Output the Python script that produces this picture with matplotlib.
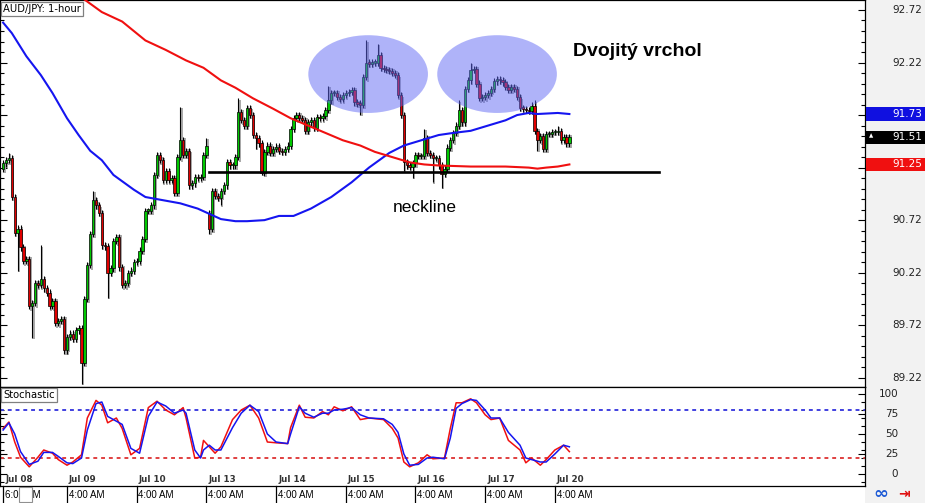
import matplotlib
matplotlib.use("Agg")
import matplotlib.pyplot as plt
import matplotlib.transforms as mtransforms
from matplotlib.patches import Rectangle, Ellipse
from matplotlib.ticker import FixedLocator, MultipleLocator
import numpy as np

# ---- data (AUD/JPY hourly) ----
first_open = 91.21
closes = [
    91.26, 91.29, 91.31, 90.94, 90.60, 90.64, 90.46, 90.33, 90.35, 89.90,
    89.93, 90.12, 90.10, 90.16, 90.07, 90.03, 89.90, 89.95, 89.74, 89.76,
    89.78, 89.48, 89.61, 89.64, 89.59, 89.67, 89.69, 89.36, 89.97, 90.29,
    90.59, 90.91, 90.86, 90.79, 90.48, 90.47, 90.22, 90.26, 90.52, 90.56,
    90.27, 90.10, 90.12, 90.22, 90.24, 90.32, 90.33, 90.43, 90.54, 90.81,
    90.81, 90.86, 91.15, 91.34, 91.29, 91.10, 91.19, 91.10, 91.12, 90.98,
    91.32, 91.48, 91.34, 91.38, 91.05, 91.07, 91.13, 91.12, 91.13, 91.34,
    91.43, 90.64, 91.00, 90.95, 90.93, 91.00, 91.05, 91.27, 91.24, 91.24,
    91.32, 91.75, 91.67, 91.62, 91.79, 91.72, 91.53, 91.50, 91.45, 91.17,
    91.37, 91.43, 91.36, 91.40, 91.42, 91.38, 91.37, 91.40, 91.43, 91.59,
    91.69, 91.72, 91.69, 91.67, 91.57, 91.65, 91.67, 91.60, 91.70, 91.69,
    91.71, 91.77, 91.86, 91.93, 91.93, 91.89, 91.87, 91.91, 91.93, 91.94,
    91.96, 91.84, 91.83, 91.82, 92.08, 92.22, 92.21, 92.22, 92.22, 92.29,
    92.17, 92.16, 92.15, 92.14, 92.12, 92.10, 91.91, 91.72, 91.27, 91.24,
    91.23, 91.26, 91.34, 91.33, 91.33, 91.50, 91.36, 91.34, 91.31, 91.31,
    91.24, 91.16, 91.21, 91.41, 91.48, 91.55, 91.62, 91.77, 91.65, 91.97,
    92.05, 92.15, 92.16, 92.02, 91.88, 91.89, 91.91, 91.93, 91.97, 92.04,
    92.06, 92.05, 92.03, 91.99, 91.96, 91.99, 91.97, 91.89, 91.79, 91.78,
    91.77, 91.76, 91.81, 91.57, 91.48, 91.52, 91.40, 91.54, 91.54, 91.56,
    91.56, 91.57, 91.48, 91.51, 91.45, 91.51,
]
gap_opens = {71: 90.79}  # weekend gap
wick_hi = {2: 91.36, 13: 90.48, 31: 91.00, 61: 91.80, 70: 91.50, 81: 91.88,
           112: 92.00, 125: 92.43, 129: 92.40, 145: 91.59, 157: 91.86,
           161: 92.22, 183: 91.86, 191: 91.62}
wick_lo = {5: 90.24, 10: 89.60, 27: 89.16, 36: 89.98, 71: 90.59, 75: 90.86,
           87: 91.40, 89: 91.15, 123: 91.72, 138: 91.19, 141: 91.12,
           148: 91.08, 151: 91.03, 184: 91.38, 186: 91.37}

blue_idx = [0, 3, 8, 13, 17, 22, 26, 30, 34, 38, 42, 45, 49, 53, 61, 67, 71, 75, 80, 84,
            90, 95, 100, 106, 113, 120, 126, 133, 138, 144, 150, 155, 161, 167, 173,
            177, 181, 184, 191, 195]
blue_ma = [92.60, 92.50, 92.28, 92.10, 91.93, 91.69, 91.53, 91.38, 91.29, 91.15,
           91.07, 91.01, 90.94, 90.92, 90.88, 90.83, 90.78, 90.73, 90.71, 90.71,
           90.72, 90.76, 90.76, 90.83, 90.94, 91.08, 91.22, 91.36, 91.43, 91.48,
           91.53, 91.55, 91.57, 91.62, 91.67, 91.72, 91.74, 91.73, 91.74, 91.73]
red_idx = [20, 28, 34, 41, 49, 56, 63, 69, 75, 80, 86, 93, 99, 105, 111, 117, 123, 128,
           134, 140, 145, 150, 161, 173, 181, 184, 187, 191, 195]
red_ma = [92.96, 92.82, 92.70, 92.61, 92.43, 92.34, 92.24, 92.17, 92.05, 91.98,
          91.88, 91.78, 91.69, 91.62, 91.55, 91.48, 91.43, 91.37, 91.32, 91.27,
          91.25, 91.24, 91.23, 91.23, 91.22, 91.21, 91.22, 91.23, 91.25]

stoch_idx = [0, 2, 4, 6, 9, 12, 14, 17, 19, 22, 24, 27, 29, 32, 34, 36, 39, 41, 44, 47,
             50, 53, 56, 59, 62, 63, 66, 68, 69, 71, 73, 75, 79, 82, 85, 88, 91, 94, 98, 99,
             102, 104, 107, 110, 112, 114, 117, 120, 123, 126, 131, 134, 136, 138, 140,
             143, 146, 148, 152, 154, 156, 158, 161, 163, 166, 168, 171, 174, 178, 180,
             182, 185, 187, 190, 193, 195]
stoch_k = [57, 65, 40, 21, 9, 21, 30, 26, 18, 11, 15, 24, 70, 92, 86, 64, 70, 57, 24, 32,
           83, 91, 80, 74, 83, 70, 20, 21, 42, 34, 26, 34, 68, 80, 86, 70, 40, 39, 38, 58,
           86, 71, 70, 78, 74, 84, 79, 84, 68, 70, 68, 57, 45, 15, 9, 14, 24, 19, 20, 57,
           89, 89, 94, 89, 74, 68, 70, 42, 30, 14, 20, 11, 18, 30, 36, 28]
stoch_d = [55, 64, 50, 28, 12, 16, 27, 27, 22, 14, 13, 20, 55, 88, 90, 72, 66, 62, 32, 26,
           72, 90, 85, 76, 80, 76, 30, 20, 30, 36, 30, 30, 58, 76, 86, 78, 50, 40, 38, 50,
           84, 76, 71, 76, 76, 80, 81, 83, 74, 70, 69, 62, 52, 25, 11, 12, 20, 21, 19, 45,
           82, 88, 93, 92, 80, 70, 70, 52, 36, 20, 18, 15, 15, 25, 36, 34]

price_ticks = [89.22, 89.72, 90.22, 90.72, 91.22, 91.72, 92.22, 92.72]
last_blue, last_close, last_red = 91.73, 91.51, 91.25
neckline_price = 91.18
neckline_span = (71, 226)

day_idx = [0, 22, 46, 70, 94, 118, 142, 166, 190]
day_labels = ["Jul 08", "Jul 09", "Jul 10", "Jul 13", "Jul 14", "Jul 15", "Jul 16", "Jul 17", "Jul 20"]
time_labels = ["6:00 AM"] + ["4:00 AM"] * 8

# ---- layout (pixels) ----
W, H = 925, 503
PW = 865

fig = plt.figure(figsize=(W / 100, H / 100), dpi=100)
fig.patch.set_facecolor("white")


def px_box(x0, y0, x1, y1):
    return [x0 / W, 1 - y1 / H, (x1 - x0) / W, (y1 - y0) / H]


fig.patches.append(Rectangle((PW / W, 0), 1 - PW / W, 1, transform=fig.transFigure,
                             fc="#f2f2f2", ec="none", zorder=-5))

ax = fig.add_axes(px_box(0, 0, PW, 387))
sx = fig.add_axes(px_box(0, 387, PW, 486), sharex=ax)
for a in (ax, sx):
    for s in a.spines.values():
        s.set_linewidth(0.9)
        s.set_color("black")

# ---- candles ----
c = np.array(closes)
n = len(c)
idx = np.arange(n)
opens = np.r_[first_open, c[:-1]]
for k, v in gap_opens.items():
    opens[k] = v
highs = np.maximum(opens, c) + 0.03
lows = np.minimum(opens, c) - 0.03
for k, v in wick_hi.items():
    highs[k] = v
for k, v in wick_lo.items():
    lows[k] = v
body_lo = np.minimum(opens, c)
body_h = np.maximum(np.abs(c - opens), 0.012)
cols = np.where(c >= opens, "#00c800", "#e00000")

ax.vlines(idx + 0.5, lows - 0.012, highs - 0.012, color="#a8a8a8", lw=1.4, zorder=2)
ax.bar(idx + 0.5, body_h, bottom=body_lo - 0.015, width=0.8, color="#a8a8a8", zorder=2)
ax.vlines(idx, lows, highs, color="black", lw=0.8, zorder=3)
ax.bar(idx, body_h, bottom=body_lo, width=0.8, color=cols, edgecolor="black", lw=0.5, zorder=4)

ax.plot(blue_idx, blue_ma, color="#1515f0", lw=1.5, zorder=6)
ax.plot(red_idx, red_ma, color="#f01010", lw=1.5, zorder=6)
ax.plot(neckline_span, [neckline_price] * 2, color="black", lw=1.9, zorder=7)

for cx in (125.7, 170.1):
    ax.add_patch(Ellipse((cx, 92.11), 41.2, 0.74, fc="#6169f5", ec="none", alpha=0.5, zorder=5))

ax.set_ylim(89.132, 92.815)
ax.yaxis.set_major_locator(FixedLocator(price_ticks))
ax.yaxis.set_minor_locator(FixedLocator(np.arange(89.22, 92.8, 0.1)))
ax.tick_params(axis="y", which="both", direction="in", left=True, right=True,
               labelleft=False, labelright=False, width=0.8)
ax.tick_params(axis="y", which="major", length=5)
ax.tick_params(axis="y", which="minor", length=3)
ax.tick_params(axis="x", which="both", bottom=False, labelbottom=False)

tr = mtransforms.blended_transform_factory(ax.transAxes, ax.transData)
boxes = ((last_blue, "#1010e0"), (last_close, "black"), (last_red, "#f01010"))
for p in price_ticks:
    # labels that sit under a marker box are hidden
    if any(abs(p - b) < 0.08 for b, _ in boxes):
        continue
    ax.text(922 / PW, p, f"{p:.2f}", transform=tr, ha="right", va="center",
            fontsize=7.5, color="#222222", clip_on=False)
for p, col in boxes:
    ax.add_patch(Rectangle((866 / PW, p - 0.062), 59 / PW, 0.124, transform=tr,
                           fc=col, ec="none", clip_on=False, zorder=10))
    ax.text(922 / PW, p, f"{p:.2f}", transform=tr, ha="right", va="center",
            fontsize=7.5, color="white", clip_on=False, zorder=11)
ax.text(871 / PW, last_close + 0.01, "\u25b2", transform=tr, ha="center", va="center",
        fontsize=4, color="white", clip_on=False, zorder=11)

ax.text(3 / PW, 1 - 4 / 387, "AUD/JPY: 1-hour", transform=ax.transAxes, ha="left", va="top",
        fontsize=7.2, zorder=12,
        bbox=dict(boxstyle="square,pad=0.2", fc="white", ec="#808080", lw=0.9))

fig.text(573 / W, 1 - 52 / H, "Dvojitý vrchol", fontsize=14, fontweight="bold",
         family="Liberation Sans", va="center", ha="left")
fig.text(393 / W, 1 - 208 / H, "neckline", fontsize=12.5, family="Liberation Sans",
         va="center", ha="left")

# ---- stochastic ----
sx.plot(stoch_idx, stoch_k, color="#f01010", lw=1.1, zorder=3)
sx.plot(stoch_idx, stoch_d, color="#1515f0", lw=1.1, zorder=4)
sx.axhline(80, color="#4040e0", ls=(0, (2, 2)), lw=1.4, zorder=2)
sx.axhline(20, color="#e04040", ls=(0, (2, 2)), lw=1.4, zorder=2)
sx.set_ylim(-15, 108.75)
sx.yaxis.set_major_locator(FixedLocator([0, 25, 50, 75, 100]))
sx.yaxis.set_minor_locator(MultipleLocator(10))
sx.tick_params(axis="y", which="both", direction="in", left=True, right=True,
               labelleft=False, labelright=False, width=0.8)
sx.tick_params(axis="y", which="major", length=5)
sx.tick_params(axis="y", which="minor", length=3)
sx.tick_params(axis="x", which="both", bottom=False, labelbottom=False)

trs = mtransforms.blended_transform_factory(sx.transAxes, sx.transData)
for v in [0, 25, 50, 75, 100]:
    sx.text(898 / PW, v, str(v), transform=trs, ha="right", va="center",
            fontsize=7.5, color="#222222", clip_on=False)
sx.text(3 / PW, 1 - 3 / 99, "Stochastic", transform=sx.transAxes, ha="left", va="top",
        fontsize=7.2, zorder=12,
        bbox=dict(boxstyle="square,pad=0.2", fc="white", ec="#808080", lw=0.9))

trx = mtransforms.blended_transform_factory(sx.transData, sx.transAxes)
for i, dl, tl in zip(day_idx, day_labels, time_labels):
    sx.text(i + 0.7, 6 / 99, dl, transform=trx, ha="left", va="center",
            fontsize=6.3, fontweight="bold", color="#333333")
    sx.plot([i, i], [0, -17 / 99], transform=trx, color="black", lw=0.9, clip_on=False)
    sx.text(i + 0.6, -9.5 / 99, tl, transform=trx, ha="left", va="center",
            fontsize=7, family="Liberation Sans", clip_on=False)
sx.add_patch(Rectangle((5.5, -16 / 99), 4.4, 15 / 99, transform=trx, fc="white",
                       ec="#909090", lw=0.8, clip_on=False, zorder=10))

fig.text(881 / W, 1 - 494 / H, "\u221e", color="#1e5bd6", fontsize=13, fontweight="bold",
         ha="center", va="center")
fig.text(904 / W, 1 - 494 / H, "\u21e5", color="#e01010", fontsize=10, fontweight="bold",
         ha="center", va="center")

ax.set_xlim(-1.07, 296.8)

fig.savefig("out.png", dpi=100)
